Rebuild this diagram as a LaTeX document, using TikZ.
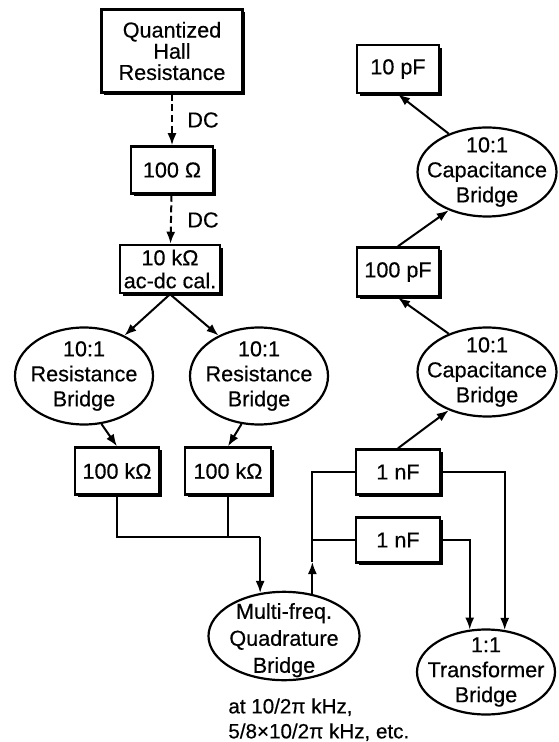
\documentclass[tikz,border=0pt]{standalone}
\usepackage{fontspec}
\setmainfont{Liberation Sans}[FakeBold=0.4]
\usetikzlibrary{shapes.geometric, arrows.meta, positioning, shadows}

\tikzset{
  stdbox/.style={draw, line width=1.25pt, fill=white, inner sep=2pt, align=center,
    minimum width=41pt, minimum height=23.5pt,
    font=\fontsize{10.8}{11}\selectfont,
    drop shadow={shadow xshift=1.4pt, shadow yshift=-1.4pt, opacity=1, fill=black}},
  bridge/.style={draw, ellipse, line width=1.1pt, fill=white, align=center,
    inner xsep=-6pt, inner ysep=-5pt, minimum width=69pt, minimum height=44pt,
    font=\fontsize{10.8}{12.5}\selectfont},
  arr/.style={line width=1pt, -{Latex[length=6pt,width=4.5pt]}},
  wire/.style={line width=1pt},
  dasharr/.style={arr, dash pattern=on 3.5pt off 1.8pt},
  lbl/.style={font=\fontsize{10.8}{11}\selectfont, inner sep=0pt},
}

\begin{document}
\begin{tikzpicture}[x=0.5pt, y=-0.5pt]
  \useasboundingbox (0,0) rectangle (558,742);

  % resistance chain
  \node[stdbox, minimum width=70.5pt, minimum height=41.5pt, font=\fontsize{10.8}{10.6}\selectfont] (qhr) at (172,51) {Quantized\\Hall\\Resistance};
  \node[stdbox] (r100) at (172,170) {100 Ω};
  \node[stdbox, minimum width=50pt, minimum height=24pt, inner ysep=1pt, font=\fontsize{10.8}{11.5}\selectfont] (r10k) at (170,269) {10 kΩ\\ac-dc cal.};
  \node[bridge, minimum height=48.5pt] (resL) at (84,376) {10:1\\Resistance\\Bridge};
  \node[bridge, minimum height=48.5pt] (resR) at (259,376) {10:1\\Resistance\\Bridge};
  \node[stdbox, minimum width=42pt] (rkL) at (117,471) {100 kΩ};
  \node[stdbox, minimum width=43pt] (rkR) at (228,471) {100 kΩ};
  \node[bridge, minimum width=75.5pt, minimum height=41pt, font=\fontsize{10.8}{13.5}\selectfont] (mfq) at (284,636) {\rule{0pt}{12pt}Multi-freq.\\Quadrature\\Bridge};
  \node[anchor=north west, align=left, inner sep=0pt, font=\fontsize{10.3}{12.5}\selectfont] (freq) at (228,698) {at 10/2π kHz,\\5/8×10/2π kHz, etc.};

  % capacitance chain
  \node[stdbox, minimum width=42pt, minimum height=22.5pt] (c1a) at (398,472) {1 nF};
  \node[stdbox, minimum width=42pt, minimum height=22.5pt] (c1b) at (398,540) {1 nF};
  \node[bridge, minimum height=42.5pt] (trans) at (486,672) {1:1\\Transformer\\Bridge};
  \node[bridge, minimum width=69.5pt, minimum height=44.5pt] (cap2) at (487,372) {10:1\\Capacitance\\Bridge};
  \node[stdbox, minimum height=24.5pt] (p100) at (398,272) {100 pF};
  \node[bridge, minimum width=69.5pt, minimum height=44.5pt] (cap1) at (487,172) {10:1\\Capacitance\\Bridge};
  \node[stdbox, minimum height=24pt] (p10) at (398,69) {10 pF};

  \draw[dasharr] (qhr) -- (r100);
  \draw[dasharr] (r100) -- (r10k);
  \node[lbl] (dc1) at (203,120) {DC};
  \node[lbl] (dc2) at (203,220) {DC};

  \draw[arr] (r10k.south) -- (resL.45);
  \draw[arr] (r10k.south) -- (resR.135);
  \draw[arr] (resL.290) -- (rkL.north);
  \draw[arr] (resR.250) -- (rkR.north);

  \coordinate (jn) at (mfq.119 |- 0,537);
  \draw[wire] (rkL.south) |- (jn);
  \draw[wire] (rkR.south) -- (rkR.south |- jn);
  \draw[arr] (jn) -- (mfq.119);

  \coordinate (up) at (mfq.56 |- 0,562);
  \draw[arr] (mfq.56) -- (up);
  \draw[wire] (up) |- (c1a.west);
  \draw[wire] (up |- c1b.west) -- (c1b.west);
  \draw[arr] (c1a.east) -| (trans.66);
  \draw[arr] (c1b.east) -| (trans.111);

  \draw[arr] (c1a.north) -- (cap2.225);
  \draw[arr] (cap2.135) -- (p100.south);
  \draw[arr] (p100.north) -- (cap1.225);
  \draw[arr] (cap1.135) -- (p10.south);
\end{tikzpicture}
\end{document}
